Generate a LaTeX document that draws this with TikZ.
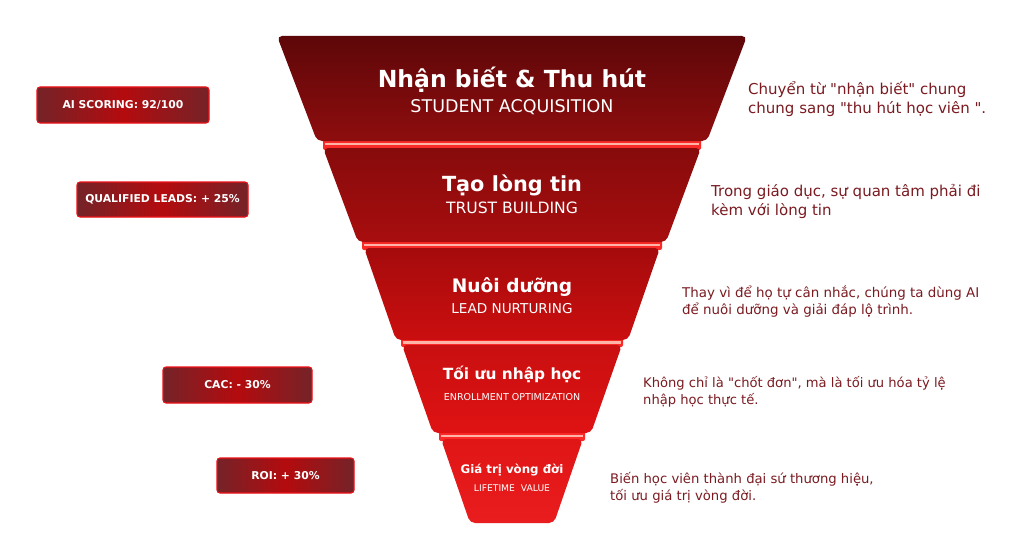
\documentclass[tikz,border=0pt]{standalone}
\usepackage{fontspec}
\setmainfont{DejaVu Sans}
\usetikzlibrary{shadings}
\definecolor{txtred}{HTML}{7A1B21}
\definecolor{glowred}{HTML}{FA2A28}
\definecolor{glowpink}{HTML}{FFB4A8}
\definecolor{bdgedge}{HTML}{742328}
\definecolor{bdgmid}{HTML}{B40B0E}
\definecolor{bdgline}{HTML}{EC1218}
\definecolor{sa}{HTML}{5E0709}\definecolor{sb}{HTML}{8E0D0E}
\definecolor{sc}{HTML}{870B0C}\definecolor{sd}{HTML}{A80D0E}
\definecolor{se}{HTML}{A50B0C}\definecolor{sf}{HTML}{CB0E0F}
\definecolor{sg}{HTML}{C90F10}\definecolor{sh}{HTML}{DF1213}
\definecolor{si}{HTML}{E01516}\definecolor{sj}{HTML}{EA1D1E}
\newcommand\qq{\textquotedbl}
\newcommand\funseg[7]{%
  \shade[top color=#5, bottom color=#6, rounded corners=5pt]
    ({512-#2},#1) -- ({512+#2},#1) -- ({512+#4},#3) -- ({512-#4},#3) -- cycle;
  \coordinate (#7) at (512,{(#1+#3)/2});}
\newcommand\glowband[3]{%
  \fill[glowred, rounded corners=2pt] ({512-#3},{#1-2}) rectangle ({512+#3},{#2+2});
  \draw[glowpink, line width=2.2pt] ({512-#3+2},{(#1+#2)/2}) -- ({512+#3-2},{(#1+#2)/2});}
\tikzset{
  ttl/.style={text=white, anchor=base, inner sep=0pt},
  sub/.style={text=white, anchor=base, inner sep=0pt},
  badge/.style={draw=bdgline, line width=1.1pt, rounded corners=3pt,
    left color=bdgedge, right color=bdgedge, middle color=bdgmid,
    text=white, font=\fontsize{10.8}{13}\selectfont\bfseries, inner sep=0pt},
  desc/.style={text=txtred, anchor=base west, inner sep=0pt}
}
\begin{document}
\begin{tikzpicture}[x=1pt,y=-1pt]
\useasboundingbox (0,0) rectangle (1024,559);
\fill[white] (0,0) rectangle (1024,559);
% glow separators
\glowband{140}{148}{189}
\glowband{242}{248}{150}
\glowband{340}{345}{111}
\glowband{433}{439}{73}
% funnel segments
\funseg{36}{235}{141}{195}{sa}{sb}{s1}
\funseg{148}{189}{242}{154}{sc}{sd}{s2}
\funseg{248}{148}{340}{116}{se}{sf}{s3}
\funseg{345}{110}{433}{79}{sg}{sh}{s4}
\funseg{439}{71}{523}{42}{si}{sj}{s5}
% titles
\node[ttl, font=\fontsize{23.5}{28}\selectfont\bfseries] (t1) at (512,88) {Nhận biết \& Thu hút};
\node[sub, font=\fontsize{17.5}{20}\selectfont] (u1) at (512,113) {STUDENT ACQUISITION};
\node[ttl, font=\fontsize{20.8}{25}\selectfont\bfseries] (t2) at (512,191) {Tạo lòng tin};
\node[sub, font=\fontsize{15.6}{18}\selectfont] (u2) at (512,213) {TRUST BUILDING};
\node[ttl, font=\fontsize{18.6}{23}\selectfont\bfseries] (t3) at (512,292) {Nuôi dưỡng};
\node[sub, font=\fontsize{13.6}{16}\selectfont] (u3) at (512,313) {LEAD NURTURING};
\node[ttl, font=\fontsize{15.4}{19}\selectfont\bfseries] (t4) at (512,379) {Tối ưu nhập học};
\node[sub, font=\fontsize{9.5}{11}\selectfont] (u4) at (512,400) {ENROLLMENT OPTIMIZATION};
\node[ttl, font=\fontsize{11.8}{14}\selectfont\bfseries] (t5) at (512,473) {Giá trị vòng đời};
\node[sub, font=\fontsize{9.2}{11}\selectfont] (u5) at (512,491) {LIFETIME\ \ VALUE};
% badges
\node[badge, minimum width=172pt, minimum height=36pt] (b1) at (123,105) {AI SCORING: 92/100};
\node[badge, minimum width=171pt, minimum height=35pt] (b2) at (162.5,199.5) {QUALIFIED LEADS: + 25\%};
\node[badge, minimum width=149pt, minimum height=36pt] (b3) at (237.5,385) {CAC: - 30\%};
\node[badge, minimum width=137pt, minimum height=35pt] (b4) at (285.5,475.5) {ROI: + 30\%};
% descriptions
\node[desc, font=\fontsize{15}{18.5}\selectfont] (d1) at (748,95) {\begin{tabular}[t]{@{}l@{}}Chuyển từ \qq nhận biết\qq{} chung\\chung sang \qq thu hút học viên \qq.\end{tabular}};
\node[desc, font=\fontsize{15}{19.5}\selectfont] (d2) at (711,196) {\begin{tabular}[t]{@{}l@{}}Trong giáo dục, sự quan tâm phải đi\\kèm với lòng tin\end{tabular}};
\node[desc, font=\fontsize{13.4}{17.5}\selectfont] (d3) at (682,297) {\begin{tabular}[t]{@{}l@{}}Thay vì để họ tự cân nhắc, chúng ta dùng AI\\để nuôi dưỡng và giải đáp lộ trình.\end{tabular}};
\node[desc, font=\fontsize{13.1}{17.5}\selectfont] (d4) at (643,387) {\begin{tabular}[t]{@{}l@{}}Không chỉ là \qq chốt đơn\qq, mà là tối ưu hóa tỷ lệ\\nhập học thực tế.\end{tabular}};
\node[desc, font=\fontsize{13.2}{17.5}\selectfont] (d5) at (610,483) {\begin{tabular}[t]{@{}l@{}}Biến học viên thành đại sứ thương hiệu,\\tối ưu giá trị vòng đời.\end{tabular}};
\end{tikzpicture}
\end{document}
